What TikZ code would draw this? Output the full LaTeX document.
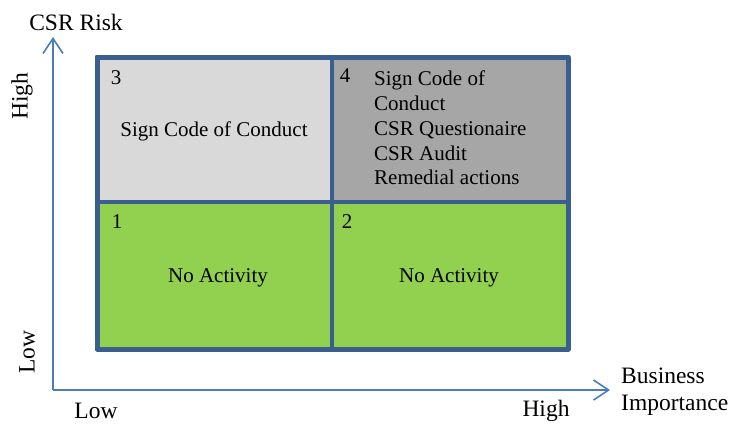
\documentclass[tikz,border=0pt]{standalone}
\usepackage{fontspec}
\setmainfont{Liberation Serif}
\usetikzlibrary{arrows.meta}
\definecolor{border}{HTML}{3A5F8F}
\definecolor{axis}{HTML}{4A7EBB}
\definecolor{lightgray}{HTML}{D9D9D9}
\definecolor{midgray}{HTML}{A6A6A6}
\definecolor{green}{HTML}{92D050}
\tikzset{
  quad/.style={draw=border, line width=4.5pt, line join=round, inner sep=0pt, outer sep=0pt, anchor=north west},
  qtext/.style={font=\fontsize{21}{24.7}\selectfont, inner sep=0pt},
  axlabel/.style={font=\fontsize{23.5}{27}\selectfont, inner sep=0pt},
  axisline/.style={draw=axis, line width=1.6pt, -{Straight Barb[length=15pt,width=20pt,line width=1.6pt]}}
}
\begin{document}
\begin{tikzpicture}[x=1pt,y=-1pt]
\useasboundingbox (0,0) rectangle (732,424);
% quadrants
\node[quad, fill=lightgray, minimum width=235pt, minimum height=145pt] (q3) at (97,57) {};
\node[quad, fill=midgray, minimum width=236pt, minimum height=145pt] (q4) at (332,57) {};
\node[quad, fill=green, minimum width=235pt, minimum height=147pt] (q1) at (97,202) {};
\node[quad, fill=green, minimum width=236pt, minimum height=147pt] (q2) at (332,202) {};
\draw[draw=border, line width=5pt, line join=round] (q3.north west) rectangle (q2.south east);
% numbers
\node[qtext] (n3) at (116,78) {3};
\node[qtext] (n4) at (345,76) {4};
\node[qtext] (n1) at (117,222) {1};
\node[qtext] (n2) at (347,222) {2};
% texts
\node[qtext] (t3) at (214,131) {Sign Code of Conduct};
\node[qtext, align=left, anchor=north west] (t4) at (374,71) {Sign Code of\\Conduct\\CSR Questionaire\\CSR Audit\\Remedial actions};
\node[qtext] (t1) at (218,278) {No Activity};
\node[qtext] (t2) at (449,278) {No Activity};
% axes
\coordinate (origin) at (53,390);
\coordinate (ytip) at (53,37);
\coordinate (xtip) at (610,390);
\draw[axisline] (origin) -- (ytip);
\draw[axisline] (origin) -- (xtip);
% axis labels
\node[axlabel] (csr) at (76,22) {CSR Risk};
\node[axlabel, rotate=90] (yhigh) at (22,96) {High};
\node[axlabel, rotate=90] (ylow) at (27,352) {Low};
\node[axlabel] (xlow) at (96,411) {Low};
\node[axlabel] (xhigh) at (546,411) {High};
\node[axlabel, align=left, anchor=north west] (bi) at (621,368) {Business\\Importance};
\end{tikzpicture}
\end{document}
